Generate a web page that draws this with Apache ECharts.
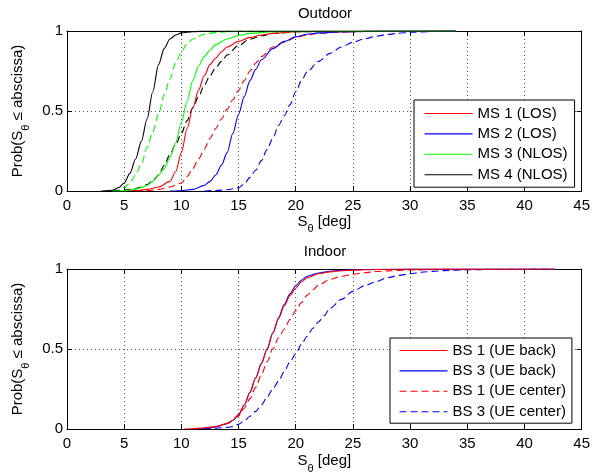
<!DOCTYPE html>
<html>
<head>
<meta charset="utf-8">
<script src="https://cdn.jsdelivr.net/npm/echarts@6/dist/echarts.min.js"></script>
<style>
html,body{margin:0;padding:0;background:#fff;}
#chart{width:593px;height:476px;}
</style>
</head>
<body>
<div id="chart"></div>
<script>
// ---------- Data ----------
const xTicks = [0, 5, 10, 15, 20, 25, 30, 35, 40, 45];
const yTicks = [0, 0.5, 1];

const outdoorTitle = 'Outdoor';
const indoorTitle = 'Indoor';

// Outdoor, solid curves [S_theta, probability]
const ms1Solid = [[5,0],[6,0.003],[7,0.01],[8,0.025],[9,0.06],[9.5,0.12],[10,0.24],[10.5,0.39],[11,0.52],[11.5,0.63],[12,0.72],[12.5,0.79],[13,0.83],[13.5,0.87],[14,0.9],[15,0.935],[16,0.96],[17,0.975],[18,0.985],[20,0.995],[22,0.998],[34,1]];
const ms2Solid = [[9,0],[10,0.002],[11,0.01],[12,0.035],[12.5,0.06],[13,0.1],[13.5,0.16],[14,0.24],[14.5,0.36],[15,0.48],[15.5,0.59],[16,0.69],[16.5,0.76],[17,0.82],[18,0.89],[19,0.935],[20,0.963],[21,0.98],[22,0.988],[24,0.995],[27,0.999],[34,1]];
const ms3Solid = [[4,0],[5,0.002],[5.5,0.006],[6,0.012],[6.5,0.022],[7,0.035],[7.5,0.06],[8,0.1],[8.5,0.14],[9,0.21],[9.5,0.3],[10,0.43],[10.5,0.56],[11,0.69],[11.5,0.78],[12,0.84],[12.5,0.88],[13,0.915],[14,0.95],[15,0.972],[16,0.985],[18,0.995],[34,1]];
const ms4Solid = [[3,0],[4,0.005],[4.5,0.02],[5,0.05],[5.5,0.11],[6,0.2],[6.5,0.31],[7,0.45],[7.5,0.62],[8,0.79],[8.5,0.89],[9,0.95],[9.5,0.975],[10,0.988],[11,0.996],[12,0.999],[34,1]];

// Outdoor, dashed curves
const ms1Dashed = [[6,0],[7,0.003],[8,0.01],[9,0.025],[10,0.05],[10.5,0.09],[11,0.14],[11.5,0.2],[12,0.26],[12.5,0.33],[13,0.39],[13.5,0.45],[14,0.51],[14.5,0.57],[15,0.63],[15.5,0.69],[16,0.75],[16.5,0.8],[17,0.84],[18,0.9],[19,0.93],[20,0.96],[21,0.975],[22,0.985],[24,0.993],[26,0.998],[34,1]];
const ms2Dashed = [[12,0],[13,0.003],[14,0.008],[15,0.02],[15.5,0.045],[16,0.085],[16.5,0.13],[17,0.19],[17.5,0.26],[18,0.33],[18.5,0.41],[19,0.47],[19.5,0.54],[20,0.62],[20.5,0.69],[21,0.745],[22,0.81],[23,0.86],[24,0.9],[25,0.93],[26,0.95],[27,0.967],[28,0.978],[29,0.986],[30,0.992],[32,0.997],[34,1]];
const ms3Dashed = [[4,0],[4.5,0.005],[5,0.02],[5.5,0.05],[6,0.1],[6.5,0.17],[7,0.27],[7.5,0.37],[8,0.48],[8.5,0.6],[9,0.7],[9.5,0.8],[10,0.87],[10.5,0.92],[11,0.95],[12,0.98],[13,0.99],[14,0.995],[16,0.998],[34,1]];
const ms4Dashed = [[4,0],[5,0.005],[6,0.015],[6.5,0.025],[7,0.04],[7.5,0.065],[8,0.1],[8.5,0.16],[9,0.23],[9.5,0.29],[10,0.36],[10.5,0.44],[11,0.52],[11.5,0.59],[12,0.66],[12.5,0.72],[13,0.77],[13.5,0.81],[14,0.85],[15,0.91],[16,0.95],[17,0.97],[18,0.985],[20,0.995],[34,1]];

// Indoor curves
const bs1Back = [[10.3,0],[11,0.002],[12,0.006],[13,0.015],[14,0.035],[14.5,0.055],[15,0.09],[15.5,0.15],[16,0.23],[16.5,0.32],[17,0.41],[17.5,0.5],[18,0.6],[18.5,0.69],[19,0.77],[19.5,0.835],[20,0.88],[20.5,0.92],[21,0.945],[22,0.97],[23,0.982],[24,0.989],[25,0.993],[27,0.997],[30,0.999],[42.6,1]];
const bs3Back = [[11.6,0],[12,0.004],[13,0.013],[14,0.033],[14.5,0.053],[15,0.088],[15.5,0.15],[16,0.23],[16.5,0.32],[17,0.41],[17.5,0.5],[18,0.6],[18.5,0.695],[19,0.78],[19.5,0.845],[20,0.895],[20.5,0.93],[21,0.955],[22,0.975],[23,0.986],[24,0.992],[26,0.997],[30,0.999],[42.6,1]];
const bs1Center = [[11,0],[12,0.005],[13,0.015],[14,0.035],[15,0.08],[15.5,0.13],[16,0.19],[16.5,0.26],[17,0.34],[17.5,0.42],[18,0.5],[18.5,0.57],[19,0.625],[19.5,0.685],[20,0.74],[20.5,0.79],[21,0.835],[21.5,0.87],[22,0.9],[23,0.935],[24,0.955],[25,0.967],[26,0.977],[27,0.984],[28,0.988],[30,0.994],[33,0.998],[42.6,1]];
const bs3Center = [[11,0],[12,0.002],[13,0.005],[14,0.01],[14.5,0.015],[15,0.03],[15.5,0.05],[16,0.08],[16.5,0.11],[17,0.15],[17.5,0.2],[18,0.25],[18.5,0.3],[19,0.36],[19.5,0.42],[20,0.47],[20.5,0.53],[21,0.58],[21.5,0.63],[22,0.67],[22.5,0.71],[23,0.755],[24,0.81],[25,0.86],[26,0.895],[27,0.92],[28,0.945],[29,0.96],[30,0.97],[31,0.98],[32,0.985],[33,0.99],[35,0.995],[38,0.998],[42.6,1]];

const outdoorLegend = ['MS 1 (LOS)', 'MS 2 (LOS)', 'MS 3 (NLOS)', 'MS 4 (NLOS)'];
const indoorLegend = ['BS 1 (UE back)', 'BS 3 (UE back)', 'BS 1 (UE center)', 'BS 3 (UE center)'];

// ---------- Chart ----------
const FONT = 'Liberation Sans';
const FS = 15;
const DASH = [7, 4];
const RED = '#ff0000', BLUE = '#0000ff', GREEN = '#00ff00', BLACK = '#000000';

const richName = {
  n: { fontSize: FS, fontFamily: FONT, color: '#000', lineHeight: 16, verticalAlign: 'top' },
  s: { fontSize: 11, fontFamily: FONT, color: '#000', lineHeight: 11, verticalAlign: 'top', padding: [10, 0, 0, 0] }
};

function axesFor(g, xNameGap) {
  const x = [
    {
      gridIndex: g, type: 'value', min: xTicks[0], max: xTicks[xTicks.length - 1], interval: xTicks[1] - xTicks[0],
      position: 'bottom',
      axisLine: { show: true, onZero: false, lineStyle: { color: '#000', width: 1 } },
      axisTick: { show: true, inside: true, length: 5, lineStyle: { color: '#000' } },
      axisLabel: { color: '#000', fontSize: FS, fontFamily: FONT, margin: 7 },
      splitLine: { show: true, lineStyle: { color: '#555', width: 1, type: [1, 3] } },
      name: '{n|S}{s|θ}{n| [deg]}', nameLocation: 'middle', nameGap: xNameGap,
      nameTextStyle: { rich: richName }
    },
    {
      gridIndex: g, type: 'value', min: xTicks[0], max: xTicks[xTicks.length - 1], interval: xTicks[1] - xTicks[0],
      position: 'top',
      axisLine: { show: true, onZero: false, lineStyle: { color: '#000', width: 1 } },
      axisTick: { show: true, inside: true, length: 5, lineStyle: { color: '#000' } },
      axisLabel: { show: false }, splitLine: { show: false }
    }
  ];
  const y = [
    {
      gridIndex: g, type: 'value', min: yTicks[0], max: yTicks[yTicks.length - 1], interval: yTicks[1] - yTicks[0],
      position: 'left',
      axisLine: { show: true, onZero: false, lineStyle: { color: '#000', width: 1 } },
      axisTick: { show: true, inside: true, length: 5, lineStyle: { color: '#000' } },
      axisLabel: { color: '#000', fontSize: FS, fontFamily: FONT, margin: 4 },
      splitLine: { show: true, lineStyle: { color: '#555', width: 1, type: [1, 3] } },
      name: '{n|Prob(S}{s|θ}{n| ≤ abscissa)}', nameLocation: 'middle', nameGap: 36,
      nameTextStyle: { rich: richName }
    },
    {
      gridIndex: g, type: 'value', min: yTicks[0], max: yTicks[yTicks.length - 1], interval: yTicks[1] - yTicks[0],
      position: 'right',
      axisLine: { show: true, onZero: false, lineStyle: { color: '#000', width: 1 } },
      axisTick: { show: true, inside: true, length: 5, lineStyle: { color: '#000' } },
      axisLabel: { show: false }, splitLine: { show: false }
    }
  ];
  return { x, y };
}

const a0 = axesFor(0, 19), a1 = axesFor(1, 24);

function line(name, data, color, dashed, xi, yi) {
  return {
    name, type: 'line', data, xAxisIndex: xi, yAxisIndex: yi,
    symbol: 'none', showSymbol: false, smooth: 0.3, smoothMonotone: 'x',
    lineStyle: { color, width: 1.1, type: dashed ? DASH : 'solid' },
    itemStyle: { color }, emphasis: { disabled: true }, animation: false, z: 3
  };
}

const legendCommon = {
  orient: 'vertical', itemWidth: 48, itemHeight: 14, itemGap: 5.4,
  backgroundColor: '#fff', borderColor: '#000', borderWidth: 1, borderRadius: 0,
  itemStyle: { opacity: 0, borderWidth: 0 },
  lineStyle: { width: 1.1 },
  textStyle: { color: '#000', fontSize: FS, fontFamily: FONT, lineHeight: 14 },
  selectedMode: false
};

const option = {
  animation: false,
  backgroundColor: '#fff',
  title: [
    { text: outdoorTitle, left: 325, top: 6, textAlign: 'center', padding: 0,
      textStyle: { fontSize: FS, fontWeight: 'normal', fontFamily: FONT, color: '#000' } },
    { text: indoorTitle, left: 325, top: 244, textAlign: 'center', padding: 0,
      textStyle: { fontSize: FS, fontWeight: 'normal', fontFamily: FONT, color: '#000' } }
  ],
  grid: [
    { left: 67, top: 31, width: 517, height: 160 },
    { left: 67, top: 269, width: 517, height: 160 }
  ],
  xAxis: [...a0.x, ...a1.x],
  yAxis: [...a0.y, ...a1.y],
  legend: [
    Object.assign({}, legendCommon, { data: outdoorLegend, left: 414, top: 100, padding: [6, 7, 5, 10] }),
    Object.assign({}, legendCommon, { data: indoorLegend, left: 390, top: 338, padding: [5, 6, 4, 9] })
  ],
  series: [
    line('MS 1 (LOS) dashed', ms1Dashed, RED, true, 0, 0),
    line('MS 2 (LOS) dashed', ms2Dashed, BLUE, true, 0, 0),
    line('MS 3 (NLOS) dashed', ms3Dashed, GREEN, true, 0, 0),
    line('MS 4 (NLOS) dashed', ms4Dashed, BLACK, true, 0, 0),
    line(outdoorLegend[0], ms1Solid, RED, false, 0, 0),
    line(outdoorLegend[1], ms2Solid, BLUE, false, 0, 0),
    line(outdoorLegend[2], ms3Solid, GREEN, false, 0, 0),
    line(outdoorLegend[3], ms4Solid, BLACK, false, 0, 0),
    line(indoorLegend[3], bs3Center, BLUE, true, 2, 2),
    line(indoorLegend[2], bs1Center, RED, true, 2, 2),
    line(indoorLegend[1], bs3Back, BLUE, false, 2, 2),
    line(indoorLegend[0], bs1Back, RED, false, 2, 2)
  ]
};

const chart = echarts.init(document.getElementById('chart'), null, { renderer: 'canvas' });
chart.setOption(option);
</script>
</body>
</html>
